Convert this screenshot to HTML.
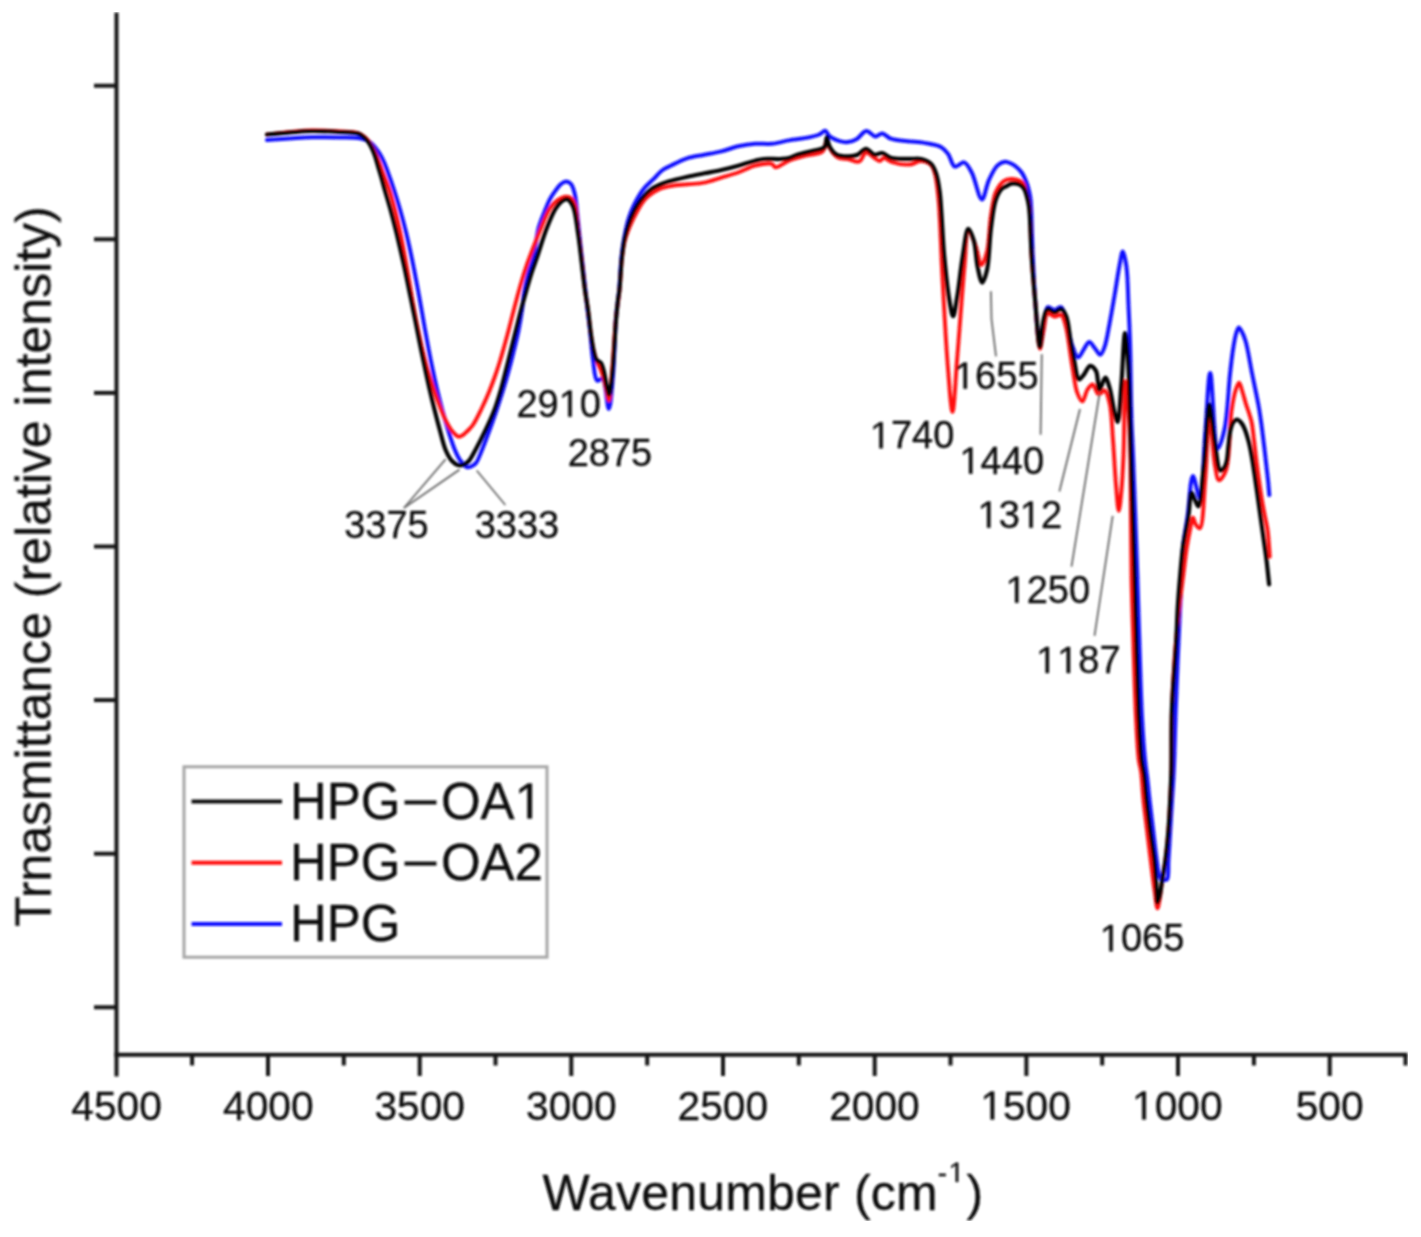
<!DOCTYPE html>
<html><head><meta charset="utf-8"><style>
html,body{margin:0;padding:0;background:#fff;}
svg{display:block;font-family:"Liberation Sans",sans-serif;}
text{stroke:#111;stroke-width:0.35px;}
</style></head><body>
<svg width="1421" height="1237" viewBox="0 0 1421 1237">
<defs><filter id="soft" x="0" y="0" width="100%" height="100%"><feGaussianBlur stdDeviation="0.9"/></filter></defs>
<rect width="1421" height="1237" fill="#fff"/>
<g filter="url(#soft)">
<line x1="116.5" y1="12.5" x2="116.5" y2="1076.5" stroke="#141414" stroke-width="4"/>
<line x1="114.5" y1="1054.7" x2="1407.5" y2="1054.7" stroke="#141414" stroke-width="4"/>
<line x1="94" y1="85.7" x2="116" y2="85.7" stroke="#141414" stroke-width="4"/>
<line x1="94" y1="239.3" x2="116" y2="239.3" stroke="#141414" stroke-width="4"/>
<line x1="94" y1="392.9" x2="116" y2="392.9" stroke="#141414" stroke-width="4"/>
<line x1="94" y1="546.5" x2="116" y2="546.5" stroke="#141414" stroke-width="4"/>
<line x1="94" y1="700.1" x2="116" y2="700.1" stroke="#141414" stroke-width="4"/>
<line x1="94" y1="853.7" x2="116" y2="853.7" stroke="#141414" stroke-width="4"/>
<line x1="94" y1="1007.3" x2="116" y2="1007.3" stroke="#141414" stroke-width="4"/>
<line x1="192.1" y1="1054.7" x2="192.1" y2="1065.5" stroke="#141414" stroke-width="4"/>
<line x1="268.0" y1="1054.7" x2="268.0" y2="1076" stroke="#141414" stroke-width="4"/>
<line x1="343.8" y1="1054.7" x2="343.8" y2="1065.5" stroke="#141414" stroke-width="4"/>
<line x1="419.7" y1="1054.7" x2="419.7" y2="1076" stroke="#141414" stroke-width="4"/>
<line x1="495.5" y1="1054.7" x2="495.5" y2="1065.5" stroke="#141414" stroke-width="4"/>
<line x1="571.3" y1="1054.7" x2="571.3" y2="1076" stroke="#141414" stroke-width="4"/>
<line x1="647.2" y1="1054.7" x2="647.2" y2="1065.5" stroke="#141414" stroke-width="4"/>
<line x1="723.0" y1="1054.7" x2="723.0" y2="1076" stroke="#141414" stroke-width="4"/>
<line x1="798.8" y1="1054.7" x2="798.8" y2="1065.5" stroke="#141414" stroke-width="4"/>
<line x1="874.7" y1="1054.7" x2="874.7" y2="1076" stroke="#141414" stroke-width="4"/>
<line x1="950.5" y1="1054.7" x2="950.5" y2="1065.5" stroke="#141414" stroke-width="4"/>
<line x1="1026.4" y1="1054.7" x2="1026.4" y2="1076" stroke="#141414" stroke-width="4"/>
<line x1="1102.2" y1="1054.7" x2="1102.2" y2="1065.5" stroke="#141414" stroke-width="4"/>
<line x1="1178.0" y1="1054.7" x2="1178.0" y2="1076" stroke="#141414" stroke-width="4"/>
<line x1="1253.9" y1="1054.7" x2="1253.9" y2="1065.5" stroke="#141414" stroke-width="4"/>
<line x1="1329.7" y1="1054.7" x2="1329.7" y2="1076" stroke="#141414" stroke-width="4"/>
<line x1="1405.5" y1="1054.7" x2="1405.5" y2="1065.5" stroke="#141414" stroke-width="4"/>
<text x="71.36" y="1119.60" font-size="40.7" fill="#111111" >4500</text>
<text x="223.03" y="1119.60" font-size="40.7" fill="#111111" >4000</text>
<text x="374.40" y="1119.60" font-size="40.7" fill="#111111" >3500</text>
<text x="526.07" y="1119.60" font-size="40.7" fill="#111111" >3000</text>
<text x="677.50" y="1119.60" font-size="40.7" fill="#111111" >2500</text>
<text x="829.18" y="1119.60" font-size="40.7" fill="#111111" >2000</text>
<path d="M515,0 L515,1237 L197,1010 L197,1180 L530,1409 L696,1409 L696,0 Z" fill="#111111" stroke="#111111" stroke-width="17.6" transform="translate(980.32,1119.60) scale(0.01987,-0.01987)"/>
<text x="1002.96" y="1119.60" font-size="40.7" fill="#111111" >500</text>
<path d="M515,0 L515,1237 L197,1010 L197,1180 L530,1409 L696,1409 L696,0 Z" fill="#111111" stroke="#111111" stroke-width="17.6" transform="translate(1132.00,1119.60) scale(0.01987,-0.01987)"/>
<text x="1154.63" y="1119.60" font-size="40.7" fill="#111111" >000</text>
<text x="1295.73" y="1119.60" font-size="40.7" fill="#111111" >500</text>
<path d="M267.00,140.00 C274.67,139.50 282.42,138.97 290.00,138.50 C297.41,138.04 304.22,137.39 312.00,137.20 C320.77,136.99 331.50,137.28 340.00,137.50 C347.12,137.68 354.88,137.59 359.60,138.30 C362.34,138.72 364.05,139.18 366.00,140.00 C367.83,140.77 369.42,141.71 371.00,143.00 C372.78,144.46 374.44,146.53 376.00,148.50 C377.61,150.53 379.16,152.74 380.50,155.00 C381.83,157.24 382.92,159.56 384.00,162.00 C385.13,164.55 385.89,166.72 387.10,170.00 C389.00,175.15 391.91,183.31 394.10,190.00 C396.28,196.64 398.30,203.32 400.20,210.00 C402.09,216.65 403.85,223.32 405.50,230.00 C407.15,236.65 408.65,243.32 410.10,250.00 C411.55,256.66 412.88,263.33 414.20,270.00 C415.52,276.66 416.77,283.33 418.00,290.00 C419.23,296.66 420.42,303.33 421.60,310.00 C422.78,316.67 423.90,323.34 425.10,330.00 C426.30,336.67 427.52,343.34 428.80,350.00 C430.08,356.67 431.40,363.34 432.80,370.00 C434.20,376.67 435.62,383.35 437.20,390.00 C438.79,396.68 440.49,403.35 442.30,410.00 C444.12,416.68 446.01,423.36 448.10,430.00 C450.21,436.69 452.60,444.54 454.90,450.00 C456.58,453.98 457.88,457.08 460.00,460.00 C462.02,462.78 464.86,466.55 467.20,467.20 C468.83,467.65 470.54,466.70 472.00,466.00 C473.47,465.30 474.72,464.58 476.00,463.00 C478.16,460.33 479.97,454.84 482.00,450.00 C484.48,444.09 487.16,436.68 489.60,430.00 C492.03,423.35 494.35,416.68 496.60,410.00 C498.85,403.35 501.05,396.68 503.10,390.00 C505.14,383.35 507.08,376.68 508.90,370.00 C510.71,363.35 512.38,356.68 514.00,350.00 C515.61,343.34 517.26,336.69 518.60,330.00 C519.93,323.35 521.02,316.68 522.00,310.00 C522.98,303.34 523.36,296.37 524.50,290.00 C525.56,284.07 526.96,278.52 528.50,273.00 C530.00,267.63 532.10,263.40 533.60,257.30 C535.60,249.15 536.20,236.82 538.50,228.20 C540.43,220.98 543.54,214.15 545.70,208.80 C547.26,204.95 548.26,202.18 550.00,199.00 C551.80,195.70 554.37,192.09 556.40,189.40 C557.99,187.29 559.27,185.32 561.00,184.00 C562.54,182.82 564.42,181.59 566.10,181.60 C567.75,181.61 569.67,182.53 571.00,184.00 C572.88,186.07 573.78,190.00 574.80,194.20 C576.33,200.50 576.76,210.03 577.70,218.50 C578.73,227.76 579.66,237.80 580.70,247.60 C581.76,257.62 582.92,268.17 584.00,278.00 C585.02,287.27 585.98,296.18 587.00,305.00 C587.98,313.50 589.04,321.30 590.00,330.00 C591.05,339.47 591.65,350.69 593.00,359.70 C594.15,367.34 594.46,379.21 597.20,380.70 C598.61,381.47 600.99,377.79 602.50,378.60 C606.02,380.50 607.07,409.07 608.80,409.00 C610.61,408.93 611.87,387.81 613.00,375.00 C614.45,358.46 614.70,333.64 616.00,318.00 C616.92,307.01 618.31,299.73 619.20,290.00 C620.17,279.46 620.50,266.48 621.50,257.00 C622.26,249.78 623.03,244.35 624.20,238.00 C625.39,231.52 626.73,224.45 628.60,218.50 C630.25,213.24 632.13,208.75 634.50,204.00 C636.97,199.05 639.93,193.60 643.20,189.40 C646.14,185.63 649.67,182.93 652.90,179.70 C656.13,176.47 659.33,172.42 662.60,170.00 C665.27,168.02 667.48,167.28 670.70,165.70 C675.28,163.46 681.87,159.93 687.60,158.10 C693.11,156.35 698.79,155.91 704.40,154.80 C710.03,153.68 715.70,152.81 721.30,151.40 C726.97,149.98 732.52,147.57 738.20,146.30 C743.79,145.05 749.45,144.22 755.10,143.80 C760.72,143.39 766.39,144.36 772.00,143.80 C777.66,143.24 783.25,141.38 788.90,140.40 C794.52,139.42 800.51,138.96 805.80,137.90 C810.58,136.95 815.81,135.99 819.30,134.50 C821.77,133.45 823.50,130.52 825.20,130.80 C826.86,131.08 827.48,134.44 829.40,136.00 C831.91,138.04 836.28,140.21 839.60,141.20 C842.46,142.05 845.20,142.42 848.00,142.10 C850.96,141.76 854.05,140.64 856.90,139.00 C860.15,137.13 863.00,131.28 866.20,131.00 C869.21,130.73 872.61,136.34 875.50,136.50 C877.88,136.63 879.87,133.35 882.20,133.50 C884.91,133.67 887.23,137.44 890.70,138.70 C895.24,140.35 901.97,140.50 907.60,141.20 C913.20,141.90 918.83,141.91 924.40,142.90 C930.06,143.90 937.14,144.86 941.30,147.20 C944.38,148.93 946.03,151.12 948.10,153.90 C950.63,157.31 951.78,165.56 954.80,166.60 C957.34,167.47 961.39,161.71 964.10,162.40 C967.12,163.17 969.28,168.10 971.70,172.50 C975.36,179.15 978.86,199.52 981.90,199.50 C984.46,199.48 986.08,186.16 988.80,180.30 C991.28,174.95 994.00,168.70 997.30,165.60 C999.66,163.38 1002.64,161.91 1005.10,161.70 C1007.17,161.53 1009.09,162.60 1011.00,163.50 C1013.07,164.48 1015.18,165.93 1017.00,167.50 C1018.85,169.09 1020.55,170.88 1022.00,173.00 C1023.59,175.32 1024.88,178.21 1026.00,181.00 C1027.15,183.87 1028.04,186.92 1028.80,190.00 C1029.58,193.15 1030.10,195.18 1030.60,199.70 C1031.73,209.91 1031.73,233.08 1032.50,250.00 C1033.29,267.24 1033.97,285.68 1035.30,302.20 C1036.51,317.19 1038.12,344.90 1039.90,345.00 C1041.03,345.06 1042.38,333.96 1043.60,328.00 C1044.95,321.42 1044.69,308.77 1047.60,307.20 C1049.32,306.27 1052.13,310.00 1054.40,310.00 C1056.67,310.00 1059.32,306.35 1061.20,307.20 C1064.20,308.57 1065.41,318.82 1067.20,325.00 C1069.10,331.53 1070.06,339.61 1072.20,345.40 C1073.90,350.01 1076.08,357.15 1078.20,357.30 C1080.07,357.43 1082.18,351.46 1084.10,348.80 C1085.84,346.39 1087.38,342.07 1089.20,342.00 C1091.08,341.93 1093.29,346.61 1095.20,348.80 C1096.97,350.83 1098.78,354.86 1100.30,354.70 C1101.90,354.53 1103.24,350.46 1104.50,347.10 C1106.60,341.48 1107.97,331.63 1109.60,323.30 C1111.39,314.17 1113.02,304.25 1114.70,294.50 C1116.43,284.46 1118.18,271.79 1119.80,263.90 C1120.83,258.86 1121.75,251.60 1122.80,251.60 C1123.94,251.60 1125.49,260.10 1126.40,266.20 C1127.87,276.07 1127.89,292.65 1128.50,305.50 C1129.09,317.86 1129.56,327.48 1130.00,341.90 C1130.64,363.02 1130.85,399.12 1131.50,420.00 C1131.93,433.98 1132.40,439.85 1133.00,455.00 C1134.10,483.05 1136.17,541.08 1137.30,575.00 C1138.13,599.96 1138.56,617.38 1139.30,640.00 C1140.11,664.72 1140.84,695.62 1142.00,717.60 C1142.86,733.86 1143.88,748.50 1145.00,760.00 C1145.77,767.92 1146.74,773.30 1147.50,780.00 C1148.27,786.74 1148.77,792.86 1149.60,800.30 C1150.61,809.42 1152.00,820.58 1153.20,830.70 C1154.40,840.81 1155.61,852.67 1156.80,861.00 C1157.64,866.88 1157.98,872.68 1159.30,876.00 C1160.04,877.87 1160.95,879.44 1162.00,880.00 C1162.76,880.40 1163.66,880.12 1164.50,880.00 C1165.39,879.87 1166.51,880.06 1167.20,879.20 C1168.96,877.00 1167.97,867.84 1168.40,861.00 C1168.95,852.18 1169.60,840.81 1170.20,830.70 C1170.80,820.58 1171.40,810.42 1172.00,800.30 C1172.60,790.19 1173.26,781.81 1173.80,770.00 C1174.56,753.39 1175.02,729.09 1175.70,710.00 C1176.32,692.57 1177.03,675.74 1177.70,660.00 C1178.30,645.92 1178.91,632.38 1179.50,620.00 C1180.01,609.28 1180.47,600.91 1181.00,590.00 C1181.63,576.91 1181.71,559.94 1183.00,546.80 C1184.09,535.66 1186.06,527.02 1187.60,516.10 C1189.36,503.65 1190.41,476.32 1192.90,476.10 C1194.78,475.94 1197.95,498.30 1199.80,498.10 C1202.93,497.75 1203.52,453.42 1205.30,432.00 C1206.98,411.75 1208.30,372.92 1210.20,372.90 C1212.35,372.88 1213.97,448.15 1217.70,448.60 C1219.64,448.83 1222.67,437.52 1224.50,429.30 C1227.51,415.79 1228.39,388.86 1230.00,374.30 C1231.06,364.69 1231.78,357.60 1232.90,350.40 C1233.83,344.40 1234.72,338.17 1236.00,334.00 C1236.83,331.28 1237.69,327.60 1238.80,327.50 C1239.87,327.40 1241.40,330.85 1242.50,333.00 C1243.84,335.63 1244.75,338.20 1245.90,342.30 C1247.99,349.78 1250.15,363.91 1252.30,374.70 C1254.45,385.48 1257.18,397.78 1258.80,407.00 C1260.00,413.85 1260.65,418.84 1261.50,425.00 C1262.39,431.49 1263.20,438.33 1264.00,445.00 C1264.80,451.66 1265.57,458.60 1266.30,465.00 C1266.97,470.90 1267.68,476.71 1268.20,482.00 C1268.65,486.62 1268.93,490.67 1269.30,495.00" fill="none" stroke="#1010ff" stroke-width="4.0" stroke-linejoin="round" stroke-linecap="round"/>
<path d="M267.00,134.50 C274.67,133.67 282.41,132.67 290.00,132.00 C297.41,131.35 304.22,130.63 312.00,130.50 C320.77,130.36 331.70,131.01 340.00,131.50 C346.67,131.90 353.71,131.65 358.00,133.00 C360.66,133.84 362.22,135.13 364.00,136.50 C365.70,137.81 367.13,139.27 368.50,141.00 C370.00,142.89 371.19,145.09 372.50,147.50 C374.03,150.33 375.64,153.85 377.00,157.00 C378.30,160.02 379.50,163.30 380.50,166.00 C381.31,168.19 381.68,169.47 382.60,172.00 C384.20,176.40 387.36,183.80 389.40,190.00 C391.52,196.45 393.28,203.32 395.00,210.00 C396.71,216.65 398.25,223.32 399.70,230.00 C401.15,236.65 402.43,243.33 403.70,250.00 C404.97,256.66 406.13,263.33 407.30,270.00 C408.47,276.66 409.55,283.33 410.70,290.00 C411.85,296.67 412.97,303.34 414.20,310.00 C415.43,316.67 416.72,323.34 418.10,330.00 C419.48,336.67 420.90,343.35 422.50,350.00 C424.10,356.68 425.79,363.36 427.70,370.00 C429.62,376.69 431.81,383.53 434.00,390.00 C436.09,396.18 438.35,402.51 440.50,408.00 C442.35,412.71 443.97,417.02 446.00,421.00 C447.84,424.62 449.72,428.27 452.00,431.00 C453.96,433.35 456.42,436.32 458.50,436.70 C460.05,436.98 461.58,435.86 463.00,435.00 C464.59,434.04 465.97,432.52 467.50,431.00 C469.27,429.24 471.06,427.62 472.90,425.00 C475.65,421.07 478.77,414.38 481.40,409.00 C483.99,403.71 486.37,398.37 488.60,393.00 C490.80,387.70 492.79,382.35 494.70,377.00 C496.59,371.69 498.35,366.35 500.00,361.00 C501.64,355.68 503.11,350.34 504.60,345.00 C506.08,339.67 507.50,334.34 508.90,329.00 C510.30,323.67 511.62,318.33 513.00,313.00 C514.38,307.66 515.75,302.33 517.20,297.00 C518.65,291.66 520.10,286.32 521.70,281.00 C523.30,275.65 524.97,270.31 526.80,265.00 C528.64,259.65 530.54,254.67 532.70,249.00 C535.18,242.51 538.04,234.98 540.90,228.20 C543.68,221.59 546.40,213.73 549.60,208.80 C551.91,205.23 554.14,202.53 557.00,200.50 C559.69,198.58 563.44,196.80 566.10,196.70 C568.12,196.63 570.06,197.29 571.50,198.50 C573.14,199.88 574.05,202.05 575.00,205.00 C576.68,210.22 576.96,219.58 578.00,228.00 C579.27,238.23 580.79,251.21 582.00,262.00 C583.10,271.78 583.90,281.46 585.00,290.00 C585.93,297.24 587.05,302.95 588.00,310.00 C589.06,317.86 589.96,327.74 591.00,335.00 C591.81,340.65 592.54,345.66 593.50,350.00 C594.25,353.40 595.22,356.61 596.00,359.00 C596.53,360.61 596.87,361.55 597.50,363.00 C598.29,364.82 599.55,366.66 600.50,369.00 C601.75,372.07 602.98,376.23 604.00,380.00 C605.05,383.89 605.82,388.34 606.70,392.00 C607.45,395.11 608.22,400.65 608.90,400.60 C610.12,400.51 610.99,383.05 612.00,372.00 C613.38,356.85 614.50,333.05 616.00,318.00 C617.08,307.13 618.52,299.66 619.50,290.00 C620.55,279.70 620.89,267.12 622.00,258.00 C622.84,251.12 623.29,246.17 625.00,240.00 C626.93,233.05 630.13,225.35 633.50,218.50 C636.84,211.73 640.48,204.11 645.10,199.10 C649.07,194.79 654.12,191.60 658.70,189.40 C662.66,187.50 666.32,186.83 670.70,186.00 C675.81,185.03 681.98,184.87 687.60,184.30 C693.21,183.73 698.84,183.69 704.40,182.60 C710.08,181.48 715.67,179.28 721.30,177.60 C726.94,175.92 732.61,174.46 738.20,172.50 C743.88,170.51 749.36,167.11 755.10,165.70 C760.64,164.34 768.65,162.81 772.00,164.00 C773.78,164.64 773.76,167.13 775.40,167.40 C778.31,167.88 784.06,162.62 788.90,160.70 C794.14,158.63 800.15,157.15 805.80,155.60 C811.41,154.06 819.22,154.60 822.70,151.40 C825.72,148.62 825.71,138.98 826.90,139.00 C827.88,139.02 827.89,144.71 829.40,147.50 C831.23,150.90 834.54,155.64 837.90,157.50 C840.86,159.14 844.55,158.36 848.00,159.00 C851.67,159.68 856.29,162.62 859.30,161.50 C862.27,160.40 863.38,152.97 866.00,152.50 C868.49,152.05 872.03,156.46 874.50,158.00 C876.38,159.17 877.89,161.04 879.50,161.00 C881.05,160.96 882.29,158.08 884.00,158.00 C886.14,157.90 888.26,160.98 891.40,162.00 C896.09,163.53 904.64,164.96 910.00,164.50 C914.22,164.14 917.51,160.87 921.10,161.00 C924.57,161.12 928.88,162.73 931.20,165.00 C933.40,167.16 933.94,170.13 935.00,174.00 C936.74,180.34 937.57,189.08 938.60,200.00 C940.33,218.40 940.86,248.23 942.30,274.40 C943.91,303.65 945.83,341.97 947.90,367.30 C949.34,384.88 951.02,411.91 952.50,411.90 C954.13,411.89 955.50,378.40 957.20,358.00 C959.43,331.23 962.42,288.73 964.60,265.10 C965.94,250.50 965.76,230.10 968.30,229.70 C970.13,229.41 973.65,240.68 975.80,246.50 C978.00,252.47 979.28,264.98 981.30,265.10 C983.03,265.20 985.46,257.56 986.90,252.10 C989.11,243.72 989.30,228.04 990.50,219.00 C991.33,212.70 992.01,207.81 993.00,203.00 C993.83,198.97 994.17,195.49 995.80,192.00 C997.56,188.23 1000.52,183.42 1003.50,181.30 C1005.84,179.64 1008.69,179.12 1011.30,179.00 C1013.86,178.88 1016.93,179.58 1019.00,180.50 C1020.65,181.23 1021.89,181.96 1023.00,183.50 C1024.66,185.80 1025.47,190.44 1026.50,194.00 C1027.54,197.60 1028.47,199.96 1029.20,205.00 C1030.73,215.60 1030.46,238.58 1031.50,255.00 C1032.51,270.97 1033.89,286.53 1035.30,302.20 C1036.70,317.76 1038.12,348.61 1039.90,348.70 C1041.03,348.75 1042.28,336.05 1043.60,330.00 C1044.86,324.24 1045.01,314.41 1047.60,313.20 C1049.32,312.40 1052.09,316.35 1054.40,316.60 C1056.62,316.84 1059.43,314.02 1061.20,314.90 C1063.41,316.00 1064.16,320.40 1065.50,325.00 C1068.10,333.94 1070.05,353.60 1072.20,365.80 C1073.96,375.77 1074.89,386.56 1077.30,392.90 C1078.74,396.70 1080.80,401.51 1082.40,401.40 C1084.23,401.28 1085.46,392.48 1087.50,389.50 C1089.01,387.29 1090.96,384.29 1092.60,384.50 C1094.70,384.77 1096.32,394.12 1098.60,394.60 C1100.39,394.98 1102.84,389.91 1104.50,390.40 C1106.78,391.07 1108.28,397.64 1109.60,403.10 C1111.77,412.08 1111.97,427.08 1113.00,440.00 C1114.13,454.25 1114.87,472.07 1116.00,485.00 C1116.86,494.83 1117.83,510.89 1118.80,510.90 C1119.67,510.91 1120.76,497.98 1121.50,490.00 C1122.48,479.37 1123.02,467.14 1123.60,452.70 C1124.40,432.74 1124.16,381.35 1125.30,381.30 C1125.88,381.27 1126.83,392.58 1127.50,400.00 C1128.47,410.82 1129.51,428.22 1130.00,440.00 C1130.38,449.30 1130.34,453.71 1130.50,465.00 C1130.84,488.67 1130.91,543.13 1131.50,575.00 C1131.95,599.50 1132.59,617.38 1133.30,640.00 C1134.07,664.72 1134.89,695.62 1136.00,717.60 C1136.82,733.86 1137.54,750.21 1138.80,760.00 C1139.47,765.25 1140.43,767.13 1141.10,772.00 C1142.12,779.42 1142.53,790.71 1143.50,800.30 C1144.51,810.26 1145.88,820.58 1147.10,830.70 C1148.32,840.81 1149.55,851.01 1150.80,861.00 C1152.02,870.77 1153.25,881.45 1154.50,890.00 C1155.49,896.81 1156.51,908.26 1157.50,908.30 C1158.17,908.32 1158.86,903.41 1159.50,900.00 C1160.50,894.65 1161.30,885.89 1162.30,879.20 C1163.24,872.92 1164.39,867.85 1165.30,861.00 C1166.47,852.20 1167.58,840.84 1168.40,830.70 C1169.22,820.51 1169.70,810.18 1170.20,800.00 C1170.70,789.94 1171.12,781.72 1171.40,770.00 C1171.80,753.43 1171.32,729.08 1171.90,710.00 C1172.43,692.57 1173.30,676.80 1174.50,660.00 C1175.72,642.87 1177.59,623.21 1179.20,608.20 C1180.44,596.62 1181.72,587.73 1183.00,577.50 C1184.28,567.27 1185.55,555.49 1186.90,546.80 C1187.90,540.35 1188.90,535.16 1190.00,530.00 C1190.95,525.54 1191.92,517.67 1193.00,517.60 C1193.79,517.55 1194.31,522.18 1195.50,524.00 C1196.62,525.71 1198.57,528.73 1199.80,528.30 C1203.31,527.07 1203.76,496.33 1205.30,478.80 C1207.04,459.01 1207.66,415.54 1209.40,415.50 C1210.94,415.46 1212.68,453.40 1214.90,465.10 C1216.14,471.65 1216.95,479.83 1219.00,480.20 C1220.78,480.52 1224.06,475.52 1225.90,470.60 C1230.01,459.62 1229.33,426.59 1231.40,412.00 C1232.65,403.21 1233.72,396.31 1235.40,391.00 C1236.49,387.56 1237.94,382.76 1239.10,382.80 C1240.31,382.84 1241.42,388.72 1242.50,392.00 C1243.70,395.67 1244.75,400.12 1245.90,403.80 C1246.92,407.07 1248.04,409.94 1249.00,413.00 C1249.94,416.01 1250.86,418.45 1251.60,422.00 C1252.64,426.94 1253.24,433.84 1254.00,440.00 C1254.81,446.49 1255.47,453.34 1256.30,460.00 C1257.13,466.67 1258.07,473.42 1259.00,480.00 C1259.91,486.42 1260.81,492.95 1261.80,499.00 C1262.71,504.57 1263.72,509.76 1264.70,515.00 C1265.65,520.08 1266.81,524.26 1267.60,530.00 C1268.64,537.60 1269.07,547.80 1269.80,556.70" fill="none" stroke="#ff1010" stroke-width="3.9" stroke-linejoin="round" stroke-linecap="round"/>
<path d="M267.00,134.50 C274.67,133.83 282.42,133.09 290.00,132.50 C297.41,131.93 304.22,131.13 312.00,131.00 C320.77,130.86 331.70,131.51 340.00,132.00 C346.67,132.40 353.96,132.20 358.00,133.50 C360.30,134.24 361.45,135.29 363.00,136.50 C364.62,137.77 366.13,139.27 367.50,141.00 C369.00,142.89 370.30,145.14 371.50,147.50 C372.82,150.10 373.91,152.89 375.00,156.00 C376.27,159.63 377.37,164.18 378.50,168.00 C379.53,171.49 380.50,174.51 381.50,178.00 C382.60,181.81 383.53,185.50 384.80,190.00 C386.45,195.82 388.76,203.32 390.60,210.00 C392.43,216.65 394.15,223.32 395.80,230.00 C397.45,236.66 398.97,243.33 400.50,250.00 C402.03,256.66 403.57,263.33 405.00,270.00 C406.43,276.66 407.73,283.33 409.10,290.00 C410.47,296.67 411.85,303.33 413.20,310.00 C414.55,316.67 415.87,323.33 417.20,330.00 C418.53,336.67 419.83,343.34 421.20,350.00 C422.57,356.67 423.97,363.34 425.40,370.00 C426.83,376.67 428.27,383.34 429.80,390.00 C431.33,396.67 432.94,403.34 434.60,410.00 C436.27,416.67 437.97,423.35 439.80,430.00 C441.64,436.68 443.22,444.44 445.60,450.00 C447.46,454.34 449.51,458.36 452.00,461.00 C453.95,463.06 456.33,464.81 458.50,465.30 C460.33,465.71 462.31,465.19 464.00,464.50 C465.75,463.79 467.24,462.70 468.80,461.00 C471.09,458.50 473.04,454.26 475.40,450.00 C478.52,444.37 482.41,436.71 485.60,430.00 C488.74,423.38 491.85,416.73 494.40,410.00 C496.90,403.40 498.86,396.69 500.80,390.00 C502.72,383.36 504.30,376.67 506.00,370.00 C507.70,363.34 509.33,356.67 511.00,350.00 C512.67,343.33 514.33,336.67 516.00,330.00 C517.67,323.33 519.25,316.66 521.00,310.00 C522.75,303.32 524.68,296.39 526.50,290.00 C528.18,284.10 529.72,278.53 531.50,273.00 C533.23,267.64 534.93,263.34 537.00,257.30 C539.80,249.09 543.33,236.85 546.70,228.20 C549.51,221.00 552.50,213.47 555.40,208.80 C557.27,205.79 558.89,203.65 561.00,202.00 C562.85,200.56 565.23,198.69 567.10,199.10 C569.26,199.57 571.32,202.66 572.90,206.00 C575.67,211.83 576.53,223.59 578.00,233.00 C579.60,243.19 580.77,254.99 582.00,265.00 C583.08,273.85 583.94,282.14 585.00,290.00 C585.95,297.05 587.05,302.95 588.00,310.00 C589.06,317.86 589.96,327.74 591.00,335.00 C591.81,340.65 592.54,345.66 593.50,350.00 C594.25,353.40 594.92,357.15 596.00,359.00 C596.59,360.02 597.23,360.37 598.00,361.00 C598.87,361.71 600.15,361.88 601.00,363.00 C602.38,364.81 603.12,368.64 604.00,372.00 C605.08,376.12 605.69,381.94 606.70,386.00 C607.50,389.21 608.51,394.56 609.30,394.50 C610.56,394.40 611.55,381.07 612.50,372.00 C613.94,358.27 614.89,333.26 616.00,320.00 C616.69,311.76 617.34,305.52 618.00,300.00 C618.47,296.09 618.93,294.30 619.40,290.00 C620.24,282.25 620.83,266.77 621.90,257.30 C622.73,249.98 623.37,244.32 624.80,237.90 C626.25,231.38 628.25,224.40 630.60,218.50 C632.70,213.21 634.73,208.64 637.90,204.00 C641.38,198.90 646.17,193.04 651.00,189.40 C655.30,186.16 660.54,184.30 665.00,182.60 C668.82,181.15 672.28,180.47 676.00,179.50 C679.81,178.50 683.37,177.64 687.60,176.70 C692.67,175.57 698.79,174.42 704.40,173.30 C710.02,172.18 715.68,171.26 721.30,170.00 C726.95,168.73 732.58,167.25 738.20,165.70 C743.85,164.15 750.40,161.86 755.10,160.70 C758.39,159.89 760.27,159.33 763.60,159.00 C768.24,158.54 775.75,159.25 780.40,159.00 C783.72,158.82 786.12,158.78 788.90,158.10 C791.76,157.40 793.98,155.87 797.30,154.80 C801.92,153.31 809.29,151.92 814.20,150.50 C818.05,149.39 822.29,149.47 824.40,147.20 C826.49,144.95 826.05,137.01 826.90,137.00 C827.72,136.99 827.90,143.43 829.40,146.30 C831.00,149.36 833.39,153.00 836.50,154.70 C839.84,156.53 845.32,156.52 849.10,156.40 C852.22,156.30 854.89,155.86 857.60,154.70 C860.55,153.44 863.19,148.81 866.00,148.80 C868.82,148.79 871.62,154.14 874.50,154.70 C877.00,155.19 879.51,152.63 882.10,153.00 C885.12,153.43 887.62,157.04 891.40,158.10 C896.41,159.50 904.59,158.76 910.00,158.90 C914.17,159.01 917.58,158.16 921.10,159.00 C924.65,159.85 928.67,161.48 931.20,164.00 C933.75,166.54 934.96,170.27 936.30,174.20 C937.95,179.03 938.78,185.19 939.60,191.10 C940.49,197.51 940.70,203.25 941.30,211.30 C942.19,223.24 942.83,240.83 944.20,255.80 C945.61,271.12 947.73,291.27 949.70,302.20 C950.79,308.27 951.95,316.22 953.10,316.20 C954.45,316.18 955.86,304.42 957.20,296.70 C959.13,285.59 960.73,267.99 962.80,255.80 C964.49,245.84 965.97,229.07 968.30,228.80 C969.92,228.61 972.44,235.98 973.90,240.90 C975.94,247.81 975.95,259.36 977.60,266.90 C978.91,272.87 980.65,282.64 982.30,282.70 C983.77,282.75 985.64,275.97 986.90,270.60 C989.18,260.83 989.31,240.73 991.00,228.00 C992.38,217.58 993.30,206.83 995.80,199.70 C997.47,194.94 999.61,190.82 1002.00,188.50 C1003.65,186.90 1005.75,186.57 1007.40,185.70 C1008.81,184.96 1009.72,183.91 1011.30,183.60 C1013.38,183.19 1016.86,183.54 1019.00,184.40 C1020.86,185.15 1022.37,186.36 1023.60,188.00 C1025.07,189.97 1025.83,192.90 1026.70,195.80 C1027.73,199.24 1028.43,202.19 1029.10,207.40 C1030.45,217.85 1030.56,239.17 1031.60,255.00 C1032.63,270.77 1033.89,286.69 1035.30,302.20 C1036.67,317.31 1038.36,346.88 1039.90,346.90 C1041.10,346.92 1041.78,326.94 1043.50,320.00 C1044.64,315.42 1045.42,309.76 1047.60,308.90 C1049.35,308.21 1052.13,312.30 1054.40,312.30 C1056.67,312.30 1059.28,308.39 1061.20,308.90 C1063.32,309.47 1064.92,313.14 1066.30,316.60 C1068.53,322.18 1069.17,332.87 1070.50,340.30 C1071.69,346.90 1072.53,352.65 1073.90,359.00 C1075.34,365.68 1076.54,378.72 1079.00,379.40 C1080.44,379.80 1082.42,376.30 1084.10,374.30 C1086.12,371.90 1087.95,366.06 1090.10,365.80 C1091.96,365.57 1094.52,368.31 1096.00,370.90 C1098.31,374.94 1097.60,389.24 1099.40,389.50 C1100.90,389.71 1103.54,377.65 1105.30,377.70 C1106.91,377.75 1108.30,383.58 1109.60,387.80 C1111.61,394.29 1113.00,407.12 1114.70,413.30 C1115.70,416.94 1116.83,421.91 1117.70,421.80 C1119.52,421.58 1120.34,396.51 1121.50,382.70 C1122.80,367.18 1123.72,333.23 1125.00,333.20 C1125.94,333.18 1127.22,349.27 1128.00,360.00 C1129.16,376.01 1129.44,401.44 1130.00,420.00 C1130.48,436.08 1130.67,446.70 1131.20,465.00 C1132.02,493.61 1133.69,543.13 1134.60,575.00 C1135.30,599.50 1135.64,617.38 1136.30,640.00 C1137.02,664.72 1137.75,695.62 1138.80,717.60 C1139.58,733.86 1140.26,749.48 1141.50,760.00 C1142.24,766.30 1143.34,769.35 1144.10,775.00 C1145.08,782.26 1145.55,791.25 1146.50,800.00 C1147.55,809.71 1148.88,820.51 1150.20,830.70 C1151.51,840.84 1153.35,850.99 1154.40,861.00 C1155.43,870.76 1155.91,882.38 1156.50,890.00 C1156.88,894.97 1156.78,902.20 1157.50,902.30 C1157.99,902.37 1158.88,899.33 1159.50,897.00 C1160.60,892.85 1161.34,885.16 1162.30,879.20 C1163.27,873.17 1164.39,867.85 1165.30,861.00 C1166.47,852.20 1167.58,840.84 1168.40,830.70 C1169.22,820.51 1169.70,810.18 1170.20,800.00 C1170.70,789.94 1171.12,781.72 1171.40,770.00 C1171.80,753.43 1171.16,730.76 1171.90,710.00 C1172.70,687.55 1175.30,658.79 1176.30,640.00 C1176.98,627.34 1177.08,618.70 1177.70,608.20 C1178.31,597.87 1179.12,587.73 1180.00,577.50 C1180.88,567.26 1181.61,557.01 1183.00,546.80 C1184.40,536.54 1186.93,525.67 1188.40,516.10 C1189.68,507.76 1189.87,492.86 1191.50,492.60 C1192.46,492.45 1193.81,497.65 1195.00,500.00 C1196.11,502.20 1197.38,506.49 1198.40,506.30 C1200.87,505.85 1202.21,480.17 1203.90,465.10 C1205.94,446.86 1207.31,404.55 1209.40,404.50 C1211.07,404.46 1212.89,431.26 1214.90,443.00 C1216.61,452.99 1217.72,469.55 1220.40,470.60 C1221.47,471.02 1223.03,469.22 1224.00,468.00 C1225.17,466.52 1225.83,464.57 1226.50,462.00 C1227.59,457.83 1227.81,450.49 1228.50,445.00 C1229.15,439.84 1229.45,434.17 1230.50,430.00 C1231.29,426.87 1232.12,423.79 1233.50,422.00 C1234.48,420.73 1235.80,419.49 1237.00,419.50 C1238.29,419.52 1239.84,421.20 1241.00,422.50 C1242.32,423.98 1243.25,425.75 1244.30,428.10 C1245.87,431.60 1247.49,437.25 1248.70,441.80 C1249.87,446.21 1250.61,450.19 1251.50,455.00 C1252.56,460.75 1253.52,467.50 1254.50,474.00 C1255.53,480.82 1256.52,488.00 1257.50,495.00 C1258.48,502.00 1259.41,508.92 1260.40,516.00 C1261.41,523.25 1262.48,530.67 1263.50,538.00 C1264.52,545.33 1265.59,552.47 1266.50,560.00 C1267.46,567.92 1268.23,576.27 1269.10,584.40" fill="none" stroke="#050505" stroke-width="4.2" stroke-linejoin="round" stroke-linecap="round"/>
<polyline points="403.9,508.0 445.7,459.2" fill="none" stroke="#6e6e6e" stroke-width="1.9"/>
<polyline points="403.9,508.0 459.5,469.6" fill="none" stroke="#6e6e6e" stroke-width="1.9"/>
<polyline points="476.7,470.5 505.3,505.0" fill="none" stroke="#6e6e6e" stroke-width="1.9"/>
<polyline points="990.9,291.2 991.5,319.0 996.0,356.4" fill="none" stroke="#6e6e6e" stroke-width="1.9"/>
<polyline points="1041.8,354.3 1040.6,434.7" fill="none" stroke="#6e6e6e" stroke-width="1.9"/>
<polyline points="1080.0,409.1 1059.4,491.5" fill="none" stroke="#6e6e6e" stroke-width="1.9"/>
<polyline points="1099.4,394.5 1071.5,566.7" fill="none" stroke="#6e6e6e" stroke-width="1.9"/>
<polyline points="1112.7,515.8 1094.5,635.8" fill="none" stroke="#6e6e6e" stroke-width="1.9"/>
<text x="344.21" y="537.78" font-size="38" fill="#111111" >3375</text>
<text x="474.64" y="537.78" font-size="38" fill="#111111" >3333</text>
<text x="516.47" y="416.73" font-size="38" fill="#111111" >29</text>
<path d="M515,0 L515,1237 L197,1010 L197,1180 L530,1409 L696,1409 L696,0 Z" fill="#111111" stroke="#111111" stroke-width="18.9" transform="translate(558.74,416.73) scale(0.01855,-0.01855)"/>
<text x="579.87" y="416.73" font-size="38" fill="#111111" >0</text>
<text x="567.72" y="465.98" font-size="38" fill="#111111" >2875</text>
<path d="M515,0 L515,1237 L197,1010 L197,1180 L530,1409 L696,1409 L696,0 Z" fill="#111111" stroke="#111111" stroke-width="18.9" transform="translate(869.83,448.28) scale(0.01855,-0.01855)"/>
<text x="890.96" y="448.28" font-size="38" fill="#111111" >740</text>
<path d="M515,0 L515,1237 L197,1010 L197,1180 L530,1409 L696,1409 L696,0 Z" fill="#111111" stroke="#111111" stroke-width="18.9" transform="translate(953.98,388.68) scale(0.01855,-0.01855)"/>
<text x="975.12" y="388.68" font-size="38" fill="#111111" >655</text>
<path d="M515,0 L515,1237 L197,1010 L197,1180 L530,1409 L696,1409 L696,0 Z" fill="#111111" stroke="#111111" stroke-width="18.9" transform="translate(959.48,473.68) scale(0.01855,-0.01855)"/>
<text x="980.61" y="473.68" font-size="38" fill="#111111" >440</text>
<path d="M515,0 L515,1237 L197,1010 L197,1180 L530,1409 L696,1409 L696,0 Z" fill="#111111" stroke="#111111" stroke-width="18.9" transform="translate(977.54,527.63) scale(0.01855,-0.01855)"/>
<text x="998.67" y="527.63" font-size="38" fill="#111111" >3</text>
<path d="M515,0 L515,1237 L197,1010 L197,1180 L530,1409 L696,1409 L696,0 Z" fill="#111111" stroke="#111111" stroke-width="18.9" transform="translate(1019.81,527.63) scale(0.01855,-0.01855)"/>
<text x="1040.94" y="527.63" font-size="38" fill="#111111" >2</text>
<path d="M515,0 L515,1237 L197,1010 L197,1180 L530,1409 L696,1409 L696,0 Z" fill="#111111" stroke="#111111" stroke-width="18.9" transform="translate(1005.53,602.78) scale(0.01855,-0.01855)"/>
<text x="1026.66" y="602.78" font-size="38" fill="#111111" >250</text>
<path d="M515,0 L515,1237 L197,1010 L197,1180 L530,1409 L696,1409 L696,0 Z" fill="#111111" stroke="#111111" stroke-width="18.9" transform="translate(1036.04,673.08) scale(0.01855,-0.01855)"/>
<path d="M515,0 L515,1237 L197,1010 L197,1180 L530,1409 L696,1409 L696,0 Z" fill="#111111" stroke="#111111" stroke-width="18.9" transform="translate(1057.17,673.08) scale(0.01855,-0.01855)"/>
<text x="1078.31" y="673.08" font-size="38" fill="#111111" >87</text>
<path d="M515,0 L515,1237 L197,1010 L197,1180 L530,1409 L696,1409 L696,0 Z" fill="#111111" stroke="#111111" stroke-width="18.9" transform="translate(1099.78,951.13) scale(0.01855,-0.01855)"/>
<text x="1120.92" y="951.13" font-size="38" fill="#111111" >065</text>
<rect x="184" y="766.8" width="363" height="190.4" fill="none" stroke="#a6a6a6" stroke-width="3"/>
<line x1="191.5" y1="801.5" x2="282" y2="801.5" stroke="#111111" stroke-width="4"/>
<line x1="191.5" y1="862.7" x2="282" y2="862.7" stroke="#ff1010" stroke-width="4"/>
<line x1="191.5" y1="923.9" x2="282" y2="923.9" stroke="#1010ff" stroke-width="4"/>
<text x="289.9" y="818.6" font-size="51" fill="#111111">HPG</text>
<rect x="404.5" y="800.4" width="32" height="4" fill="#111111"/>
<text x="440.90" y="818.60" font-size="51" fill="#111111" >OA</text>
<path d="M515,0 L515,1237 L197,1010 L197,1180 L530,1409 L696,1409 L696,0 Z" fill="#111111" stroke="#111111" stroke-width="14.1" transform="translate(514.59,818.60) scale(0.02490,-0.02490)"/>
<text x="289.9" y="879.8" font-size="51" fill="#111111">HPG</text>
<rect x="404.5" y="861.6" width="32" height="4" fill="#111111"/>
<text x="440.90" y="879.80" font-size="51" fill="#111111" >OA2</text>
<text x="289.9" y="941.0" font-size="51" fill="#111111">HPG</text>
<text x="542.4" y="1209.8" font-size="50" letter-spacing="0.2" fill="#111111">Wavenumber (cm</text>
<text x="937.8" y="1181.9" font-size="28" fill="#111111">-</text>
<path d="M515,0 L515,1237 L197,1010 L197,1180 L530,1409 L696,1409 L696,0 Z" fill="#111111" stroke="#111111" stroke-width="25.6" transform="translate(948.70,1181.90) scale(0.01367,-0.01367)"/>
<text x="966.6" y="1209.8" font-size="50" fill="#111111">)</text>
<text transform="translate(50.6,926.9) rotate(-90)" x="0" y="0" font-size="50" fill="#111111">Trnasmittance (relative intensity)</text>
</g>
</svg>
</body></html>
